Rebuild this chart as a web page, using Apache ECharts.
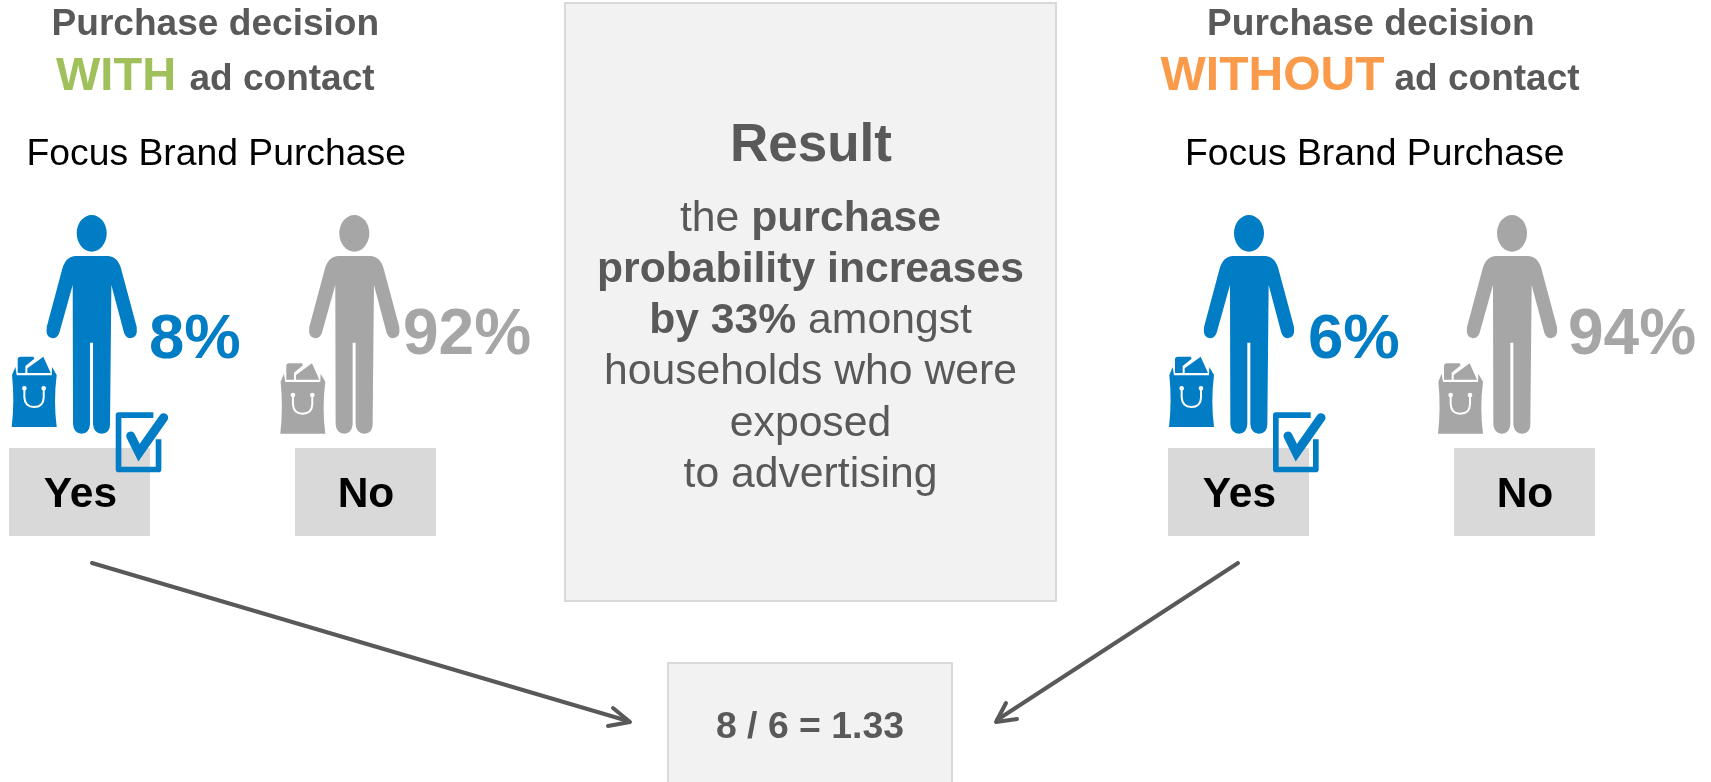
<!DOCTYPE html>
<html>
<head>
<meta charset="utf-8">
<style>html,body{margin:0;padding:0;background:#fff}#c{width:1711px;height:782px}</style>
<script src="https://cdn.jsdelivr.net/npm/echarts@6/dist/echarts.min.js"></script>
</head>
<body>
<div id="c"></div>
<script>
// ---- values and labels ----
var panelTitles = ['Purchase decision', 'Purchase decision'];
var panelHighlights = ['WITH', 'WITHOUT'];
var panelSuffix = 'ad contact';
var panelSubtitle = 'Focus Brand Purchase';
var categories = ['Yes', 'No'];
var withContact = [8, 92];
var withoutContact = [6, 94];
var ratio = 1.33;
var upliftPercent = 33;
var resultTitle = 'Result';

// ---- drawing helpers ----
var FONT = '"Liberation Sans", Arial, sans-serif';
var GREY = '#595959', BLUE = '#007dc5', SOFT = '#a6a6a6', BOX = '#d9d9d9', PANEL = '#f2f2f2';
var g = [];

function text(x, base, str, size, color, weight, align) {
  g.push({ type: 'text', x: x, y: base - size * 0.3465, silent: true,
    style: { text: str, fill: color, textAlign: align || 'left', verticalAlign: 'middle',
      font: (weight || 'normal') + ' ' + size + 'px ' + FONT } });
}
function richText(x, base, str, size) {
  g.push({ type: 'text', x: x, y: base - size * 0.3465, silent: true,
    style: { text: str, textAlign: 'center', verticalAlign: 'middle',
      rich: {
        r: { fill: GREY, font: 'normal ' + size + 'px ' + FONT },
        b: { fill: GREY, font: 'bold ' + size + 'px ' + FONT }
      } } });
}
function box(x, y, w, h, fill, stroke) {
  g.push({ type: 'rect', shape: { x: x, y: y, width: w, height: h }, silent: true,
    style: { fill: fill, stroke: stroke || null, lineWidth: stroke ? 2 : 0 } });
}
function icon(type, x, y, style) {
  g.push({ type: type, x: x, y: y, scaleX: 1 / 3, scaleY: 1 / 3, silent: true, shape: {}, style: style });
}

var ICONS = {
  person: 'M230,127 A45,55 0 1 1 320,127 A45,55 0 1 1 230,127 Z ' +
    'M225,195 L325,195 Q355,197 365,240 L410,408 Q414,440 392,442 Q378,442 372,425 L334,282 ' +
    'L330,700 Q330,728 305,728 Q281,728 279,700 L279,455 L270,455 L270,700 Q268,728 245,728 ' +
    'Q221,728 219,700 L218,282 L178,425 Q172,442 157,442 Q136,440 140,408 L185,240 Q195,197 225,195 Z',
  bag: 'M35,708 Q44,630 36,552 L46,528 L50,553 L155,553 L156,528 L170,552 Q160,630 170,708 Z ' +
    'M53,546 L53,505 Q53,497 62,497 L100,497 L103,503 L76,525 L76,546 Z ' +
    'M82,546 L82,532 L130,497 L152,546 Z',
  handle: 'M73,595 L73,620 Q75,648 102,648 Q130,648 131,620 L131,595',
  dots: 'M66,592 A7,7 0 1 1 80,592 A7,7 0 1 1 66,592 Z M124,592 A7,7 0 1 1 138,592 A7,7 0 1 1 124,592 Z',
  frame: 'M460,672.5 L355.5,672.5 L355.5,835.5 L475.5,835.5 L475.5,745',
  check: 'M392,735 L417,785 L491,680'
};
Object.keys(ICONS).forEach(function (k) {
  echarts.graphic.registerShape(k, echarts.graphic.extendPath(ICONS[k]));
});

function figure(cx, color, bagDx, bagDy, tick) {
  var ox = cx - 275 / 3, Y = 191;
  icon('person', ox, Y, { fill: color });
  icon('bag', ox + bagDx, Y + bagDy, { fill: color });
  icon('handle', ox + bagDx, Y + bagDy, { fill: null, stroke: '#fff', lineWidth: 6 });
  icon('dots', ox + bagDx, Y + bagDy, { fill: '#fff' });
  if (tick) {
    icon('frame', ox, Y, { fill: null, stroke: color, lineWidth: 17, lineJoin: 'round' });
    icon('check', ox, Y, { fill: null, stroke: color, lineWidth: 27, lineCap: 'round', lineJoin: 'miter' });
  }
}

function panel(i, values, o) {
  text(o.titleX, 38, panelTitles[i], 37.1, GREY, 'bold');
  text(o.highX, 93, panelHighlights[i], o.highSize, o.highColor, 'bold');
  text(o.suffixX, 93, panelSuffix, 37, GREY, 'bold');
  text(o.subX, 168, panelSubtitle, 37.3, '#000', 'normal');

  box(o.yesX, 448, 141, 88, BOX);
  box(o.noX, 448, 141, 88, BOX);
  figure(o.yesCx, BLUE, 0, 0, true);
  figure(o.noCx, SOFT, 6, 20 / 3, false);

  text(o.yesX + 71.5, 510, categories[0], 42.5, '#000', 'bold', 'center');
  text(o.noX + 71, 510, categories[1], 42.5, '#000', 'bold', 'center');
  text(o.yesPctX, 362.5, values[0] + '%', 63.5, BLUE, 'bold');
  text(o.noPctX, 358.5, values[1] + '%', 64, SOFT, 'bold');
}

// ---- scene ----
box(565, 3, 491, 598, PANEL, BOX);
box(668, 663, 284, 140, PANEL, BOX);

panel(0, withContact, { titleX: 51.5, highX: 56, highSize: 47, highColor: '#9fc05a', suffixX: 189.5, subX: 26.5,
  yesX: 9, noX: 295, yesCx: 91.7, noCx: 354.3, yesPctX: 149, noPctX: 403 });
panel(1, withoutContact, { titleX: 1207, highX: 1160.5, highSize: 48, highColor: '#f99b4a', suffixX: 1394.5, subX: 1185,
  yesX: 1168, noX: 1454, yesCx: 1249, noCx: 1512, yesPctX: 1308, noPctX: 1568 });

text(811, 164.5, resultTitle, 53, GREY, 'bold', 'center');
richText(810.5, 234, '{r|the }{b|purchase}', 42.7);
richText(810.5, 285, '{b|probability increases}', 42.7);
richText(810.5, 336.5, '{b|by ' + upliftPercent + '%}{r| amongst}', 42.7);
richText(810.5, 387.5, '{r|households who were}', 42.7);
richText(810.5, 439, '{r|exposed}', 42.7);
richText(810.5, 490, '{r|to advertising}', 42.7);
text(810, 740.5, (withContact[0]) + ' / ' + (withoutContact[0]) + ' = ' + ratio, 37.4, GREY, 'bold', 'center');

// arrows
var arrowStyle = { stroke: GREY, lineWidth: 4, lineCap: 'round', lineJoin: 'round', fill: null };
g.push({ type: 'line', silent: true, shape: { x1: 92, y1: 563, x2: 628, y2: 721 }, style: arrowStyle });
g.push({ type: 'polyline', silent: true, shape: { points: [[613, 708], [630, 722], [608, 726]] }, style: arrowStyle });
g.push({ type: 'line', silent: true, shape: { x1: 1238, y1: 563, x2: 997, y2: 720 }, style: arrowStyle });
g.push({ type: 'polyline', silent: true, shape: { points: [[1006, 703], [996, 722], [1017, 719]] }, style: arrowStyle });

var chart = echarts.init(document.getElementById('c'), null, { renderer: 'canvas', width: 1711, height: 782 });
chart.setOption({ animation: false, backgroundColor: '#fff', graphic: { elements: g } });
</script>
</body>
</html>
